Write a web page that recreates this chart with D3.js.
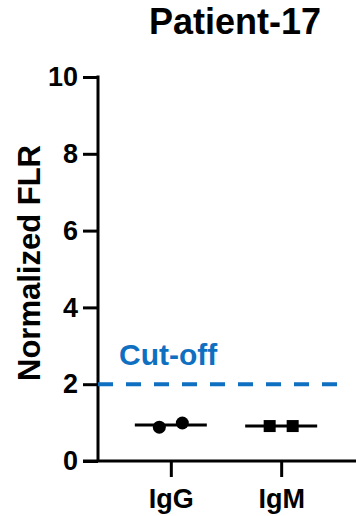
<!DOCTYPE html>
<html>
<head>
<meta charset="utf-8">
<script src="https://cdn.jsdelivr.net/npm/d3@7"></script>
<style>
  html, body { margin: 0; padding: 0; background: #fff; }
  svg { display: block; font-family: "Liberation Sans", Arial, sans-serif; }
</style>
</head>
<body>
<div id="chart"></div>
<script>
// Data
const categories = ["IgG", "IgM"];
const iggValues = [0.88, 0.99];
const igmValues = [0.91, 0.91];
const yTicks = [0, 2, 4, 6, 8, 10];
const cutoff = 2;
const titleText = "Patient-17";
const yLabel = "Normalized FLR";

const width = 356, height = 516;
const blue = "#0f70c1";

const svg = d3.select("#chart")
    .append("svg")
    .attr("width", width)
    .attr("height", height);

// Scales
const y = d3.scaleLinear().domain([0, 10]).range([461, 77]);
const x = d3.scalePoint().domain(categories).range([98, 354]).padding(0.66);

// Title
svg.append("text")
    .attr("x", 235)
    .attr("y", 34)
    .attr("text-anchor", "middle")
    .style("font-size", "36px")
    .style("font-weight", "700")
    .text(titleText);

// Y axis
const yAxis = svg.append("g")
    .attr("transform", "translate(98,0)")
    .call(d3.axisLeft(y).tickValues(yTicks).tickSize(15).tickPadding(5).tickSizeOuter(0));
yAxis.select(".domain").attr("stroke-width", 3).attr("d", `M0,${y(10) - 1.5}V${y(0)}`);
yAxis.selectAll(".tick line").attr("stroke-width", 3);
yAxis.selectAll(".tick text")
    .style("font-size", "27px")
    .style("font-weight", "700")
    .attr("fill", "#000");

// X axis (extends left past the y axis)
const xAxis = svg.append("g")
    .attr("transform", `translate(0,${y(0)})`)
    .call(d3.axisBottom(x).tickSize(16).tickPadding(12).tickSizeOuter(0));
xAxis.select(".domain").attr("stroke-width", 3).attr("d", `M83,0H${width}`);
xAxis.selectAll(".tick line").attr("stroke-width", 3);
xAxis.selectAll(".tick text")
    .style("font-size", "27px")
    .style("font-weight", "700")
    .attr("fill", "#000");

// Y label
svg.append("text")
    .attr("transform", `translate(40,${263}) rotate(-90)`)
    .attr("text-anchor", "middle")
    .style("font-size", "31px")
    .style("font-weight", "700")
    .text(yLabel);

// Cut-off line
svg.append("line")
    .attr("x1", 98)
    .attr("x2", 350)
    .attr("y1", y(cutoff))
    .attr("y2", y(cutoff))
    .attr("stroke", blue)
    .attr("stroke-width", 4)
    .attr("stroke-dasharray", "15,13");

svg.append("text")
    .attr("x", 119)
    .attr("y", 365)
    .attr("fill", blue)
    .style("font-size", "30px")
    .style("font-weight", "700")
    .text("Cut-off");

// Mean lines
const groups = [
    { name: "IgG", values: iggValues, shape: "circle" },
    { name: "IgM", values: igmValues, shape: "square" }
];
const halfLine = 36, spread = 11.5;

groups.forEach(g => {
    const cx = x(g.name);
    const mean = d3.mean(g.values);
    svg.append("line")
        .attr("x1", cx - halfLine)
        .attr("x2", cx + halfLine)
        .attr("y1", y(mean))
        .attr("y2", y(mean))
        .attr("stroke", "#000")
        .attr("stroke-width", 3);

    const offsets = g.values.map((v, i) => i === 0 ? -spread : spread);
    if (g.shape === "circle") {
        svg.selectAll(null)
            .data(g.values)
            .join("circle")
            .attr("cx", (d, i) => cx + offsets[i])
            .attr("cy", d => y(d))
            .attr("r", 6.5)
            .attr("fill", "#000");
    } else {
        svg.selectAll(null)
            .data(g.values)
            .join("rect")
            .attr("x", (d, i) => cx + offsets[i] - 6)
            .attr("y", d => y(d) - 6)
            .attr("width", 12)
            .attr("height", 12)
            .attr("fill", "#000");
    }
});
</script>
</body>
</html>
